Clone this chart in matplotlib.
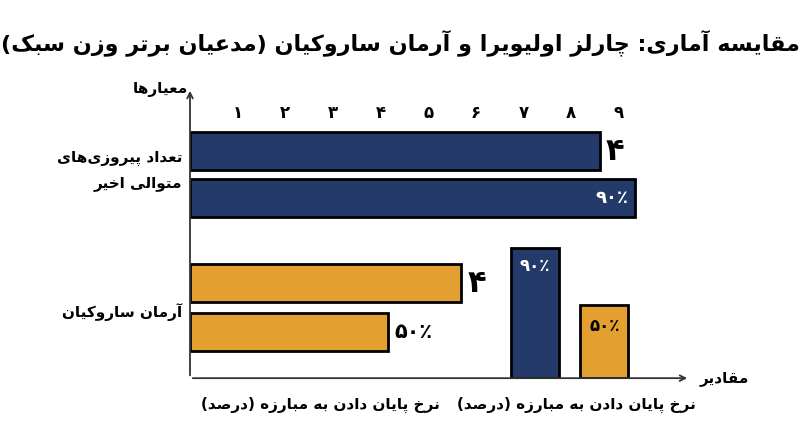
import unicodedata
import matplotlib
matplotlib.use('Agg')
import matplotlib.pyplot as plt

plt.rcParams['font.family'] = ['DejaVu Sans']

# minimal Arabic/Persian shaping for matplotlib (no RTL support there)
def _form(ch, kind):
    try:
        return unicodedata.lookup(unicodedata.name(ch) + ' ' + kind + ' FORM')
    except (KeyError, ValueError):
        return None

def _is_letter(ch):
    return ch and '\u0600' <= ch <= '\u06FF' and unicodedata.category(ch) == 'Lo'

def _dual(ch):
    return _is_letter(ch) and _form(ch, 'INITIAL') is not None

def fa(text):
    out = []
    for i, ch in enumerate(text):
        if not _is_letter(ch):
            out.append(ch)
            continue
        prev = text[i - 1] if i > 0 else ''
        nxt = text[i + 1] if i + 1 < len(text) else ''
        join_prev = _dual(prev)
        join_next = _dual(ch) and _is_letter(nxt)
        if join_prev and join_next:
            kind = 'MEDIAL'
        elif join_prev:
            kind = 'FINAL'
        elif join_next:
            kind = 'INITIAL'
        else:
            kind = 'ISOLATED'
        out.append(_form(ch, kind) or ch)
    s = ''.join(out).replace('\u200c', '')[::-1]
    return s.translate(str.maketrans('()', ')('))

title = 'مقایسه آماری: چارلز اولیویرا و آرمان ساروکیان (مدعیان برتر وزن سبک)'
group_labels = ['تعداد پیروزی‌های\nمتوالی اخیر', 'آرمان ساروکیان']
bottom_label = 'نرخ پایان دادن به مبارزه (درصد)'
x_ticks = ['۱', '۲', '۳', '۴', '۵', '۶', '۷', '۸', '۹']

navy_h = [8.6, 9.35]
navy_h_text = ['۴', '۹۰٪']
orange_h = [5.7, 4.15]
orange_h_text = ['۴', '۵۰٪']
vert_vals = [5.0, 2.8]
vert_text = ['۹۰٪', '۵۰٪']

navy = '#233a6a'
orange = '#e3a030'

fig = plt.figure(figsize=(8, 4.47), dpi=100)
ax = fig.add_axes([0.2375, 0.154, 0.625, 0.649])
ax.set_xlim(0, 10.5)
ax.set_ylim(0, 11.15)
ax.axis('off')

ax.annotate('', xy=(10.5, 0), xytext=(0, 0),
            arrowprops=dict(arrowstyle='->', lw=1.3, color='#333'))
ax.annotate('', xy=(0, 11.15), xytext=(0, 0),
            arrowprops=dict(arrowstyle='->', lw=1.3, color='#333'))

ypos_navy = [8.73, 6.92]
ypos_orange = [3.65, 1.77]
ax.barh(ypos_navy, navy_h, height=1.45, color=navy, edgecolor='black', lw=2)
ax.barh(ypos_orange, orange_h, height=1.45, color=orange, edgecolor='black', lw=2)

ax.text(navy_h[0] + 0.12, ypos_navy[0], navy_h_text[0], fontsize=22, fontweight='bold', va='center', ha='left')
ax.text(navy_h[1] - 0.15, ypos_navy[1], navy_h_text[1], fontsize=13, fontweight='bold', va='center', ha='right', color='white')
ax.text(orange_h[0] + 0.12, ypos_orange[0], orange_h_text[0], fontsize=22, fontweight='bold', va='center', ha='left')
ax.text(orange_h[1] + 0.15, ypos_orange[1], orange_h_text[1], fontsize=15, fontweight='bold', va='center', ha='left')

vx = [7.25, 8.7]
ax.bar(vx, vert_vals, width=1.0, color=[navy, orange], edgecolor='black', lw=2)
ax.text(vx[0], vert_vals[0] - 0.7, vert_text[0], fontsize=12, fontweight='bold', ha='center', va='center', color='white')
ax.text(vx[1], vert_vals[1] - 0.8, vert_text[1], fontsize=12, fontweight='bold', ha='center', va='center')

for i, t in enumerate(x_ticks):
    ax.text(i + 1, 10.2, t, fontsize=12, fontweight='bold', ha='center', va='center')

fig.text(0.5, 0.905, fa(title), fontsize=16, fontweight='bold', ha='center', va='center')
fig.text(0.235, 0.8, fa('معیارها'), fontsize=11, fontweight='bold', ha='right', va='center')
fig.text(0.875, 0.154, fa('مقادیر'), fontsize=11, fontweight='bold', ha='left', va='center')
lines = group_labels[0].split('\n')
fig.text(0.228, 0.645, fa(lines[0]), fontsize=11, fontweight='bold', ha='right', va='center')
fig.text(0.228, 0.59, fa(lines[1]), fontsize=11, fontweight='bold', ha='right', va='center')
fig.text(0.228, 0.302, fa(group_labels[1]), fontsize=11, fontweight='bold', ha='right', va='center')
fig.text(0.4, 0.095, fa(bottom_label), fontsize=11, fontweight='bold', ha='center', va='center')
fig.text(0.72, 0.095, fa(bottom_label), fontsize=11, fontweight='bold', ha='center', va='center')

fig.savefig('out.png', dpi=100, facecolor='white')
